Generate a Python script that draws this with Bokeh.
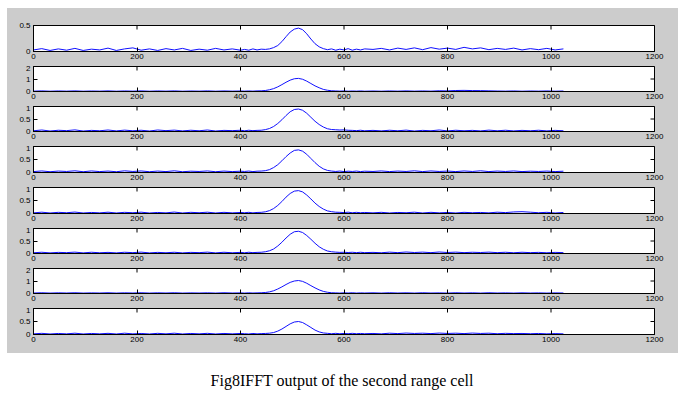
import math
from bokeh.plotting import figure
from bokeh.models import Range1d, FixedTicker, Div
from bokeh.layouts import column
from bokeh.embed import file_html
from bokeh.resources import INLINE

# sample positions (range cell index)
x = list(range(0, 401, 16)) + list(range(408, 641, 8)) + list(range(656, 1025, 16))

s1 = [0.03,0.055,0.02,0.05,0.025,0.06,0.02,0.045,0.03,0.065,0.02,0.05,0.07,0.025,0.05,0.02,0.055,0.03,0.06,0.02,0.045,0.025,0.06,0.03,0.05,0.025,
      0.04,0.025,0.05,0.03,0.045,0.04,0.05,0.075,0.115,0.19,0.285,0.375,0.43,0.45,0.42,0.34,0.24,0.15,0.09,0.055,0.035,0.05,0.025,0.045,0.03,0.055,0.025,0.045,0.03,0.05,
      0.04,0.06,0.03,0.065,0.04,0.07,0.035,0.075,0.045,0.065,0.04,0.08,0.05,0.07,0.035,0.06,0.04,0.065,0.03,0.055,0.035,0.06,0.03,0.05]
s2 = [0.03,0.05,0.025,0.045,0.03,0.05,0.025,0.04,0.03,0.05,0.025,0.045,0.03,0.05,0.025,0.045,0.03,0.05,0.025,0.04,0.03,0.05,0.025,0.045,0.03,0.04,
      0.03,0.045,0.03,0.05,0.055,0.08,0.14,0.23,0.37,0.55,0.74,0.91,1.02,1.05,0.98,0.83,0.64,0.45,0.3,0.17,0.1,0.06,0.045,0.03,0.045,0.025,0.04,0.03,0.045,0.025,
      0.04,0.025,0.045,0.03,0.05,0.03,0.045,0.03,0.06,0.05,0.08,0.09,0.075,0.07,0.055,0.04,0.03,0.045,0.025,0.04,0.03,0.045,0.025,0.04]
s3 = [0.03,0.06,0.02,0.05,0.035,0.065,0.02,0.045,0.03,0.06,0.025,0.055,0.03,0.05,0.02,0.06,0.035,0.055,0.025,0.05,0.03,0.06,0.02,0.045,0.035,0.05,
      0.03,0.05,0.035,0.045,0.05,0.075,0.12,0.2,0.32,0.47,0.64,0.79,0.88,0.9,0.85,0.73,0.57,0.41,0.28,0.18,0.11,0.08,0.07,0.06,0.065,0.05,0.045,0.035,0.05,0.03,
      0.045,0.025,0.05,0.03,0.055,0.02,0.045,0.03,0.06,0.025,0.05,0.03,0.045,0.025,0.055,0.03,0.05,0.025,0.045,0.03,0.05,0.025,0.045,0.03]
s4 = [0.035,0.06,0.03,0.055,0.04,0.065,0.03,0.06,0.035,0.055,0.03,0.065,0.04,0.06,0.03,0.055,0.035,0.065,0.03,0.05,0.04,0.06,0.03,0.055,0.035,0.05,
      0.04,0.055,0.035,0.05,0.055,0.07,0.11,0.19,0.3,0.45,0.61,0.75,0.85,0.87,0.82,0.7,0.54,0.38,0.24,0.14,0.08,0.055,0.04,0.055,0.035,0.05,0.04,0.055,0.035,0.05,
      0.04,0.06,0.035,0.055,0.04,0.065,0.035,0.06,0.04,0.055,0.035,0.06,0.04,0.065,0.035,0.055,0.04,0.06,0.035,0.05,0.04,0.055,0.035,0.05]
s5 = [0.025,0.05,0.02,0.045,0.03,0.055,0.02,0.04,0.025,0.05,0.02,0.045,0.03,0.05,0.02,0.04,0.025,0.055,0.02,0.045,0.03,0.05,0.02,0.045,0.025,0.04,
      0.03,0.045,0.025,0.04,0.045,0.065,0.11,0.19,0.31,0.46,0.63,0.77,0.86,0.88,0.83,0.71,0.56,0.4,0.27,0.17,0.1,0.07,0.05,0.045,0.035,0.05,0.03,0.045,0.03,0.04,
      0.025,0.045,0.02,0.04,0.03,0.05,0.02,0.045,0.025,0.04,0.02,0.045,0.03,0.04,0.025,0.05,0.035,0.06,0.07,0.05,0.03,0.045,0.02,0.04]
s6 = [0.03,0.05,0.025,0.045,0.035,0.055,0.025,0.05,0.03,0.045,0.025,0.05,0.035,0.055,0.025,0.045,0.03,0.05,0.025,0.045,0.035,0.055,0.025,0.05,0.03,0.045,
      0.03,0.05,0.035,0.045,0.05,0.07,0.11,0.18,0.3,0.45,0.62,0.77,0.87,0.89,0.84,0.72,0.57,0.41,0.27,0.17,0.1,0.07,0.055,0.045,0.05,0.04,0.05,0.035,0.05,0.035,
      0.045,0.03,0.055,0.035,0.06,0.04,0.055,0.035,0.06,0.04,0.055,0.035,0.05,0.04,0.055,0.035,0.05,0.03,0.05,0.035,0.045,0.03,0.045,0.035]
s7 = [0.04,0.06,0.035,0.055,0.04,0.06,0.035,0.05,0.04,0.06,0.035,0.055,0.04,0.06,0.035,0.055,0.04,0.06,0.035,0.05,0.04,0.055,0.035,0.06,0.04,0.05,
      0.035,0.055,0.04,0.05,0.06,0.08,0.13,0.22,0.36,0.53,0.72,0.89,1.0,1.04,0.97,0.82,0.63,0.45,0.29,0.17,0.1,0.06,0.05,0.035,0.055,0.04,0.06,0.035,0.05,0.04,
      0.055,0.035,0.06,0.04,0.055,0.035,0.06,0.04,0.05,0.035,0.06,0.04,0.055,0.035,0.06,0.04,0.05,0.035,0.055,0.04,0.05,0.035,0.05,0.04]
s8 = [0.025,0.045,0.02,0.04,0.025,0.05,0.02,0.04,0.025,0.045,0.02,0.05,0.025,0.04,0.02,0.045,0.025,0.05,0.02,0.04,0.025,0.045,0.02,0.04,0.025,0.04,
      0.03,0.02,0.04,0.025,0.035,0.04,0.05,0.075,0.13,0.21,0.31,0.41,0.48,0.5,0.46,0.37,0.27,0.17,0.1,0.06,0.045,0.03,0.045,0.03,0.04,0.03,0.045,0.03,0.04,0.03,
      0.04,0.025,0.05,0.035,0.055,0.04,0.05,0.035,0.055,0.04,0.05,0.035,0.055,0.04,0.05,0.03,0.045,0.035,0.04,0.03,0.04,0.025,0.035,0.025]

series = [s1, s2, s3, s4, s5, s6, s7, s8]
y_max = [0.5, 2, 1, 1, 1, 1, 2, 1]
y_ticks = [[0, 0.5], [0, 1, 2], [0, 0.5, 1], [0, 0.5, 1], [0, 0.5, 1], [0, 0.5, 1], [0, 1, 2], [0, 0.5, 1]]
x_ticks = [0, 200, 400, 600, 800, 1000, 1200]
caption = "Fig8IFFT output of the second range cell"

GRAY = "#cccccc"
frame_h = [26, 25, 25, 26, 26, 25, 25, 26]
FONT = "Liberation Sans"
FS = "8px"

figs = []
n = len(series)
for i in range(n):
    top_b = 17 if i == 0 else 1
    bot_b = 19 if i == n - 1 else 14
    p = figure(frame_width=621, frame_height=frame_h[i],
               x_range=Range1d(0, 1200), y_range=Range1d(0, y_max[i]),
               output_backend="svg", toolbar_location=None,
               min_border_left=26, min_border_right=24,
               min_border_top=top_b, min_border_bottom=bot_b,
               border_fill_color=GRAY, background_fill_color="white",
               outline_line_color="black", outline_line_width=1)
    p.xgrid.visible = False
    p.ygrid.visible = False
    p.line(x, series[i], line_color="#1010ff", line_width=1)

    # inward ticks on the top and right edges of the box (MATLAB style)
    p.scatter(x=x_ticks, y=[y_max[i]] * len(x_ticks), marker="dash", angle=math.pi / 2,
              size=8, line_color="black", line_width=1)
    p.scatter(x=[1200] * len(y_ticks[i]), y=y_ticks[i], marker="dash",
              size=8, line_color="black", line_width=1)

    xa = p.xaxis[0]
    xa.ticker = FixedTicker(ticks=x_ticks)
    ya = p.yaxis[0]
    ya.ticker = FixedTicker(ticks=y_ticks[i])
    for ax in (xa, ya):
        ax.major_tick_in = 4
        ax.major_tick_out = 0
        ax.minor_tick_in = 0
        ax.minor_tick_out = 0
        ax.major_label_text_font = FONT
        ax.major_label_text_font_size = FS
        ax.major_label_text_color = "black"
        ax.axis_line_color = "black"
        ax.major_tick_line_color = "black"
        ax.major_label_standoff = 3
    xa.major_label_standoff = 2
    figs.append(p)

plots = column(*figs, spacing=0, styles={"background-color": GRAY})

cap = Div(text='<div style="width:670px;margin-top:17px;text-align:center;font-family:\'Liberation Serif\';'
               'font-size:16px;color:black;">' + caption + '</div>',
          width=670, height=40, margin=0)

layout = column(plots, cap, spacing=0, margin=(8, 0, 0, 7))
open("out.html", "w").write(file_html(layout, INLINE))
